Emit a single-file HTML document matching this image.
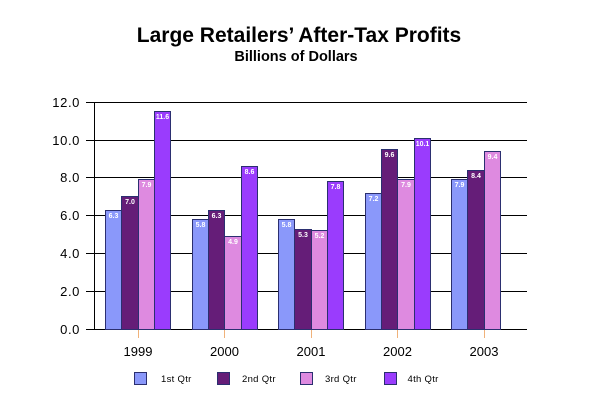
<!DOCTYPE html>
<html>
<head>
<meta charset="utf-8">
<style>
  html,body{margin:0;padding:0;background:#fff;}
  svg{display:block;}
  text{font-family:"Liberation Sans", Arial, sans-serif;}
</style>
</head>
<body>
<svg width="600" height="400" viewBox="0 0 600 400" xmlns="http://www.w3.org/2000/svg">
  <rect x="0" y="0" width="600" height="400" fill="#fff"/>
  <!-- Titles -->
  <text x="299" y="42" font-size="21" font-weight="bold" text-anchor="middle" fill="#000">Large Retailers’ After-Tax Profits</text>
  <text x="296" y="61" font-size="14.5" font-weight="bold" text-anchor="middle" fill="#000">Billions of Dollars</text>

  <!-- Gridlines + ticks -->
  <g stroke="#000" stroke-width="1" shape-rendering="crispEdges">
    <line x1="86" y1="102.5" x2="527" y2="102.5"/>
    <line x1="86" y1="140.5" x2="527" y2="140.5"/>
    <line x1="86" y1="177.5" x2="527" y2="177.5"/>
    <line x1="86" y1="215.5" x2="527" y2="215.5"/>
    <line x1="86" y1="253.5" x2="527" y2="253.5"/>
    <line x1="86" y1="291.5" x2="527" y2="291.5"/>
    <line x1="86" y1="329.5" x2="527" y2="329.5"/>
    <line x1="94.5" y1="102" x2="94.5" y2="330"/>
  </g>
  <!-- Y labels -->
  <g font-size="13" text-anchor="end" fill="#000" letter-spacing="0.6">
    <text x="80" y="107">12.0</text>
    <text x="80" y="145">10.0</text>
    <text x="80" y="182">8.0</text>
    <text x="80" y="220">6.0</text>
    <text x="80" y="258">4.0</text>
    <text x="80" y="296">2.0</text>
    <text x="80" y="334">0.0</text>
  </g>

  <!-- Bars -->
  <g stroke="#2b2f70" stroke-width="1" shape-rendering="crispEdges">
    <!-- 1999 -->
    <rect x="105.5" y="210.5" width="16" height="119" fill="#8a98fa"/>
    <rect x="121.5" y="196.5" width="17" height="133" fill="#651d78"/>
    <rect x="138.5" y="179.5" width="16" height="150" fill="#de8ae0"/>
    <rect x="154.5" y="111.5" width="16" height="218" fill="#9a3cfd"/>
    <!-- 2000 -->
    <rect x="192.5" y="219.5" width="16" height="110" fill="#8a98fa"/>
    <rect x="208.5" y="210.5" width="16" height="119" fill="#651d78"/>
    <rect x="224.5" y="236.5" width="17" height="93" fill="#de8ae0"/>
    <rect x="241.5" y="166.5" width="16" height="163" fill="#9a3cfd"/>
    <!-- 2001 -->
    <rect x="278.5" y="219.5" width="16" height="110" fill="#8a98fa"/>
    <rect x="294.5" y="229.5" width="17" height="100" fill="#651d78"/>
    <rect x="311.5" y="230.5" width="16" height="99" fill="#de8ae0"/>
    <rect x="327.5" y="181.5" width="16" height="148" fill="#9a3cfd"/>
    <!-- 2002 -->
    <rect x="365.5" y="193.5" width="16" height="136" fill="#8a98fa"/>
    <rect x="381.5" y="149.5" width="16" height="180" fill="#651d78"/>
    <rect x="397.5" y="179.5" width="17" height="150" fill="#de8ae0"/>
    <rect x="414.5" y="138.5" width="16" height="191" fill="#9a3cfd"/>
    <!-- 2003 -->
    <rect x="451.5" y="179.5" width="16" height="150" fill="#8a98fa"/>
    <rect x="467.5" y="170.5" width="17" height="159" fill="#651d78"/>
    <rect x="484.5" y="151.5" width="16" height="178" fill="#de8ae0"/>
  </g>

  <!-- Data labels -->
  <g font-size="7" font-weight="bold" fill="#fff" text-anchor="middle">
    <text x="113.5" y="218">6.3</text>
    <text x="130" y="204">7.0</text>
    <text x="146.5" y="187">7.9</text>
    <text x="162.5" y="119">11.6</text>
    <text x="200.5" y="227">5.8</text>
    <text x="216.5" y="218">6.3</text>
    <text x="233" y="244">4.9</text>
    <text x="249.5" y="174">8.6</text>
    <text x="286.5" y="227">5.8</text>
    <text x="303" y="237">5.3</text>
    <text x="319.5" y="238">5.2</text>
    <text x="335.5" y="189">7.8</text>
    <text x="373.5" y="201">7.2</text>
    <text x="389.5" y="157">9.6</text>
    <text x="406" y="187">7.9</text>
    <text x="422.5" y="146">10.1</text>
    <text x="459.5" y="187">7.9</text>
    <text x="476" y="178">8.4</text>
    <text x="492.5" y="159">9.4</text>
  </g>

  <!-- Category ticks -->
  <g stroke="#f0b27a" stroke-width="1" shape-rendering="crispEdges">
    <line x1="138.5" y1="330" x2="138.5" y2="338"/>
    <line x1="224.5" y1="330" x2="224.5" y2="338"/>
    <line x1="311.5" y1="330" x2="311.5" y2="338"/>
    <line x1="397.5" y1="330" x2="397.5" y2="338"/>
    <line x1="484.5" y1="330" x2="484.5" y2="338"/>
  </g>
  <!-- Year labels -->
  <g font-size="13" text-anchor="middle" fill="#000">
    <text x="138" y="356">1999</text>
    <text x="224.5" y="356">2000</text>
    <text x="311" y="356">2001</text>
    <text x="397.5" y="356">2002</text>
    <text x="484" y="356">2003</text>
  </g>

  <!-- Legend -->
  <g stroke="#2b2f70" stroke-width="1" shape-rendering="crispEdges">
    <rect x="134.5" y="372.5" width="12" height="12" fill="#8a98fa"/>
    <rect x="217.5" y="372.5" width="12" height="12" fill="#651d78"/>
    <rect x="300.5" y="372.5" width="12" height="12" fill="#de8ae0"/>
    <rect x="384.5" y="372.5" width="12" height="12" fill="#9a3cfd"/>
  </g>
  <g font-size="9.5" fill="#000" letter-spacing="0.3">
    <text x="161" y="382">1st Qtr</text>
    <text x="242" y="382">2nd Qtr</text>
    <text x="325" y="382">3rd Qtr</text>
    <text x="407.5" y="382">4th Qtr</text>
  </g>
</svg>
</body>
</html>
